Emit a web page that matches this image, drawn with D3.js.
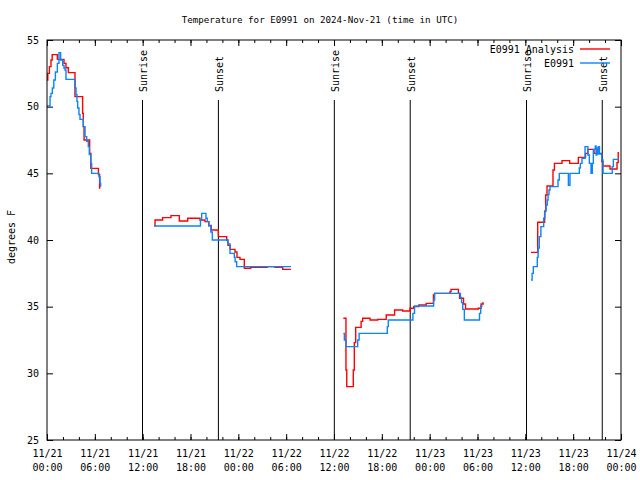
<!DOCTYPE html>
<html>
<head>
<meta charset="utf-8">
<script src="https://cdn.jsdelivr.net/npm/d3@7"></script>
<style>
  html, body { margin: 0; padding: 0; background: #fff; }
  text { font-family: "DejaVu Sans Mono", "Liberation Mono", monospace; font-size: 10px; fill: #000; }
</style>
</head>
<body>
<svg id="chart" width="640" height="480"></svg>
<script>
// ---- data (hours since 2024-11-21 00:00 UTC, temperature °F); null = gap ----
const title = "Temperature for E0991 on 2024-Nov-21 (time in UTC)";
const yLabel = "degrees F";
const seriesNames = ["E0991 Analysis", "E0991"];
const yTicks = [25, 30, 35, 40, 45, 50, 55];

const analysis = [
  [0,52.0],[0.1,52.5],[0.3,53.0],[0.5,53.5],[0.65,53.9],[1.3,53.55],[2.13,53.25],[2.38,52.92],[2.68,52.55],
  [3.51,50.75],[4.47,49.5],[4.55,48.5],[4.65,47.5],[5.35,46.5],[5.5,45.37],[6.45,44.9],[6.6,43.9],[6.7,43.9],
  null,
  [13.42,41.07],[13.55,41.5],[14.5,41.68],[15.55,41.83],[16.6,41.43],[17.65,41.63],[19.19,41.5],[19.82,41.38],
  [20.3,41.1],[20.6,40.75],[21.49,40.25],[22.54,40.0],[22.7,39.6],[22.96,39.3],[23.58,39.1],[23.83,38.7],
  [24.21,38.55],[24.75,37.88],[25.55,37.95],[27.6,38.0],[28.6,37.95],[29.57,37.8],[30.6,37.8],
  null,
  [37.17,34.13],[37.5,30.25],[37.6,29.0],[38.42,30.25],[38.55,32.3],[38.72,33.45],[39.4,33.9],[39.6,34.13],
  [40.52,34.0],[41.48,34.05],[42.55,34.38],[43.6,34.75],[44.62,34.68],[45.53,34.88],[46.0,35.0],[46.65,35.13],
  [47.56,35.25],[48.47,35.88],[48.6,36.0],[50.55,36.13],[50.68,36.3],[51.6,36.0],[51.75,35.63],[52.25,35.2],
  [52.5,34.83],[54.1,34.88],[54.45,35.2],[54.7,35.3],[54.75,35.3],
  null,
  [60.71,39.07],[61.55,41.33],[62.42,42.13],[62.55,43.38],[62.72,44.05],[63.47,45.25],[63.65,45.75],[64.6,45.95],
  [65.56,45.75],[66.65,46.2],[67.55,46.5],[67.85,46.8],[68.62,46.5],[69.58,45.88],[69.72,45.55],[70.62,45.33],
  [71.5,45.8],[71.65,46.55],[71.75,46.55]
];

const observed = [
  [0,50.05],[0.38,50.75],[0.5,51.0],[0.67,51.4],[0.85,52.0],[1.05,52.6],[1.3,53.25],[1.5,54.05],[1.71,53.5],
  [1.97,53.1],[2.13,52.9],[2.26,52.75],[2.38,52.05],[3.51,51.4],[3.64,50.9],[3.76,50.4],[3.85,49.9],[4.01,49.4],
  [4.14,49.05],[4.56,48.5],[4.77,47.75],[4.98,47.4],[5.18,47.0],[5.31,46.4],[5.48,45.75],[5.6,45.0],[6.52,44.75],
  [6.65,44.25],[6.73,44.0],
  null,
  [13.42,41.05],[19.25,41.5],[19.4,42.0],[19.94,41.63],[20.1,41.38],[20.3,41.05],[20.55,40.6],[20.74,40.0],
  [22.67,39.7],[22.96,39.0],[23.5,38.7],[23.6,38.37],[23.79,38.0],[30.6,38.0],
  null,
  [37.17,33.0],[37.3,32.5],[37.5,32.0],[38.97,32.5],[39.15,33.0],[42.69,33.5],[42.81,34.0],[45.9,34.5],
  [46.1,35.05],[48.5,35.5],[48.62,36.0],[51.85,35.7],[52.0,35.3],[52.15,34.8],[52.35,34.0],[54.25,34.5],
  [54.4,35.05],[54.65,35.05],
  null,
  [60.71,37.0],[60.85,37.5],[61.0,38.0],[61.5,38.7],[61.6,39.4],[61.75,40.25],[61.95,41.0],[62.3,41.63],
  [62.45,42.2],[62.6,42.63],[62.75,43.0],[62.85,43.4],[62.97,43.75],[63.1,44.0],[64.1,44.5],[64.26,45.0],
  [65.4,44.1],[65.6,45.0],[66.77,45.4],[66.9,45.75],[67.11,46.13],[67.49,47.0],[67.85,46.38],[68.03,45.75],
  [68.24,45.0],[68.4,45.75],[68.53,46.8],[68.78,47.05],[68.87,46.38],[68.95,46.9],[69.03,46.45],[69.16,47.0],
  [69.3,46.45],[69.58,46.0],[69.75,45.0],[70.9,45.5],[71.04,46.05],[71.75,46.05]
];

// sun events, hours since start
const sunEventHours = [11.98, 21.5, 36.04, 45.56, 60.15, 69.65];
const sunEventLabels = ["Sunrise", "Sunset", "Sunrise", "Sunset", "Sunrise", "Sunset"];

const colors = ["#ff0000", "#0a84ff"];

// ---- drawing ----
const start = Date.UTC(2024, 10, 21);
const toDate = h => new Date(start + h * 3600e3);
const L = 47, R = 621, T = 40, B = 440;

const svg = d3.select("#chart");
const x = d3.scaleUtc().domain([toDate(0), toDate(72)]).range([L, R]);
const y = d3.scaleLinear().domain([25, 55]).range([B, T]);

// title
svg.append("text").attr("x", 320).attr("y", 20).attr("dy", "0.35em")
  .attr("text-anchor", "middle").style("font-size", "9.2px").text(title);

// y label
svg.append("text").attr("transform", "translate(11,237) rotate(-90)")
  .attr("text-anchor", "middle").attr("dy", "0.35em").text(yLabel);

// axes (ticks inward, mirrored)
const major = d3.utcHour.every(6), minor = d3.utcHour.every(2);
const styleAxis = g => { g.select(".domain").remove(); g.selectAll("line").attr("stroke", "#000"); };

svg.append("g").attr("transform", `translate(0,${B})`)
  .call(d3.axisBottom(x).ticks(minor).tickSize(-3).tickFormat("")).call(styleAxis);
svg.append("g").attr("transform", `translate(0,${T})`)
  .call(d3.axisTop(x).ticks(minor).tickSize(-3).tickFormat("")).call(styleAxis);
const xb = svg.append("g").attr("transform", `translate(0,${B})`)
  .call(d3.axisBottom(x).ticks(major).tickSize(-6).tickFormat("")).call(styleAxis);
svg.append("g").attr("transform", `translate(0,${T})`)
  .call(d3.axisTop(x).ticks(major).tickSize(-6).tickFormat("")).call(styleAxis);

const fmtD = d3.utcFormat("%m/%d"), fmtT = d3.utcFormat("%H:%M");
xb.selectAll(".tick").each(function(d) {
  const t = d3.select(this).append("text").attr("text-anchor", "middle");
  t.append("tspan").attr("x", 0).attr("y", 17).text(fmtD(d));
  t.append("tspan").attr("x", 0).attr("y", 31).text(fmtT(d));
});

const yl = svg.append("g").attr("transform", `translate(${L},0)`)
  .call(d3.axisLeft(y).tickValues(yTicks).tickSize(-6).tickPadding(8)).call(styleAxis);
yl.selectAll("text").style("font-family", "DejaVu Sans Mono").style("font-size", "10px").attr("fill", "#000");
svg.append("g").attr("transform", `translate(${R},0)`)
  .call(d3.axisRight(y).tickValues(yTicks).tickSize(-6).tickFormat("")).call(styleAxis);

// sun event lines + labels
sunEventHours.forEach((h, i) => {
  const xp = x(toDate(h));
  svg.append("line").attr("x1", xp).attr("x2", xp).attr("y1", y(25 + 0.85 * 30)).attr("y2", B)
    .attr("stroke", "#000").attr("stroke-width", 1);
  svg.append("text").attr("transform", `translate(${xp + 4.5},92) rotate(-90)`)
    .attr("text-anchor", "start").text(sunEventLabels[i]);
});

// series
const line = d3.line().defined(d => d !== null)
  .x(d => x(toDate(d[0]))).y(d => y(d[1])).curve(d3.curveStepAfter);
[analysis, observed].forEach((s, i) => {
  svg.append("path").datum(s).attr("d", line).attr("fill", "none")
    .attr("stroke", colors[i]).attr("stroke-width", 1.4);
});

// border
svg.append("rect").attr("x", L).attr("y", T).attr("width", R - L).attr("height", B - T)
  .attr("fill", "none").attr("stroke", "#000").attr("stroke-width", 1);

// legend
seriesNames.forEach((n, i) => {
  const yy = 49 + i * 14;
  svg.append("text").attr("x", 574).attr("y", yy).attr("dy", "0.35em")
    .attr("text-anchor", "end").text(n);
  svg.append("line").attr("x1", 580).attr("x2", 610).attr("y1", yy).attr("y2", yy)
    .attr("stroke", colors[i]).attr("stroke-width", 1.4);
});
</script>
</body>
</html>
